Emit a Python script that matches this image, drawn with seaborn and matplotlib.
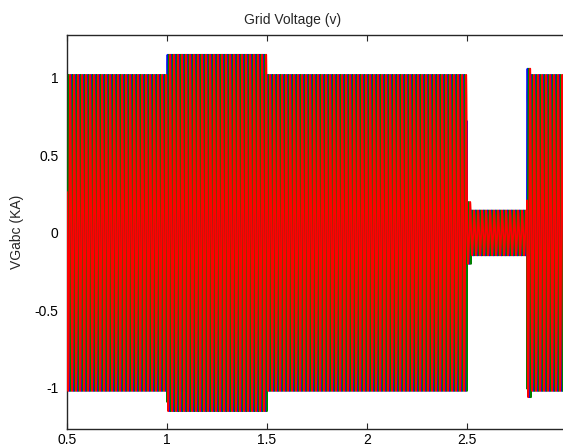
import numpy as np
import pandas as pd
import seaborn as sns
import matplotlib
matplotlib.use("Agg")
import matplotlib.pyplot as plt

# Segments of the grid voltage record (time in s, peak in kA)
seg_start = [0.5, 1.0, 1.5, 2.5, 2.52, 2.8, 2.82]
seg_end = [1.0, 1.5, 2.5, 2.52, 2.8, 2.82, 3.0]
seg_peak = [1.02, 1.15, 1.02, 0.2, 0.145, 1.06, 1.02]
grid_freq = 50.0
phase_names = ["Va", "Vb", "Vc"]
phase_shift_deg = [45, -75, 165]
phase_colors = ["#0000ff", "#008000", "#ff0000"]

sns.set_style("ticks")
plt.rcParams["font.family"] = ["Liberation Sans", "DejaVu Sans"]

# build the three-phase record from the segment table
t = np.arange(seg_start[0], seg_end[-1], 2e-4)
amp = np.zeros_like(t)
for s, e, a in zip(seg_start, seg_end, seg_peak):
    amp[(t >= s) & (t < e)] = a

fig = plt.figure(figsize=(5.63, 4.48), dpi=100)
ax = fig.add_axes([67 / 563, 1 - 429 / 448, 500 / 563, 394 / 448])

# blue first, red last (red ends up on top like the original)
for k, (name, sh, col) in enumerate(zip(phase_names, phase_shift_deg, phase_colors)):
    v = amp * np.sin(2 * np.pi * grid_freq * t + np.deg2rad(sh))
    d = pd.DataFrame({"t": t, "v": v})
    sns.lineplot(data=d, x="t", y="v", color=col, estimator=None, sort=False,
                 linewidth=1.3, ax=ax, zorder=2 + k)

ax.set_xlim(0.5, 3.0)
ax.set_ylim(-1.265, 1.277)
ax.set_xticks([0.5, 1, 1.5, 2, 2.5])
ax.set_xticklabels(["0.5", "1", "1.5", "2", "2.5"])
ax.set_yticks([-1, -0.5, 0, 0.5, 1])
ax.set_yticklabels(["-1", "-0.5", "0", "0.5", "1"])
ax.tick_params(direction="in", length=4, width=0.8, labelsize=10,
               top=True, right=True, pad=6, colors="#262626")
ax.tick_params(axis="x", pad=3)
ax.tick_params(labelcolor="black")
for sp in ax.spines.values():
    sp.set_linewidth(1.0)
    sp.set_color("#262626")

ax.set_xlabel("")
ax.set_ylabel("VGabc (KA)", fontsize=10, labelpad=8)
ax.set_title("Grid Voltage (v)", fontsize=10, x=(293 - 67) / 500, pad=8)

fig.savefig("out.png", dpi=100, facecolor="white")
